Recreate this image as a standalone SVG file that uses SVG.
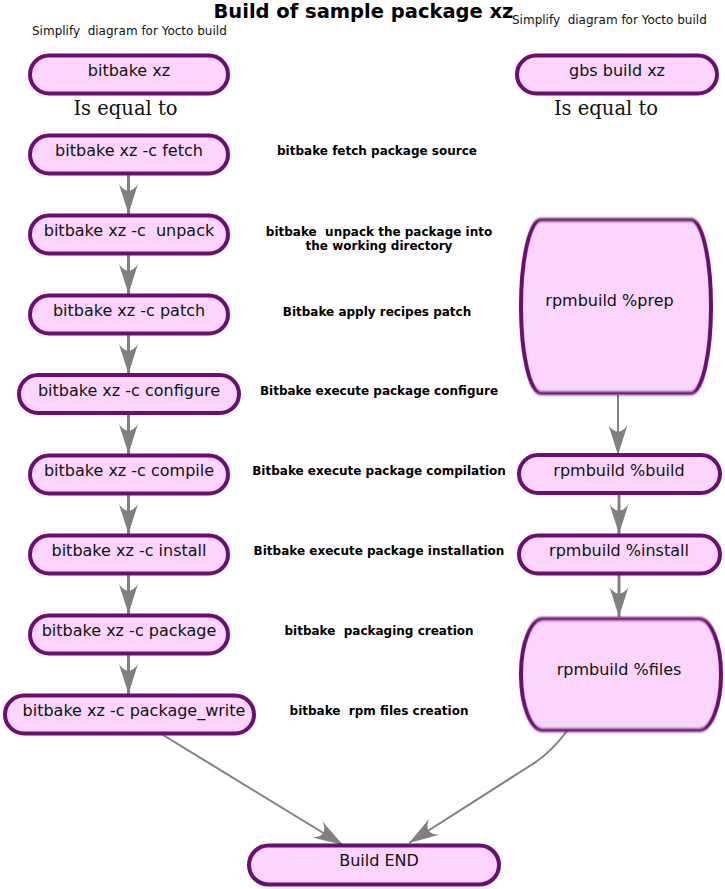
<svg xmlns="http://www.w3.org/2000/svg" width="725" height="889" viewBox="0 0 725 889" xml:space="preserve">
<style>
text{white-space:pre}
.node{fill:#fbd5fd;stroke:#6c0b72;stroke-width:4;filter:url(#soft)}
.big{fill:#fbd5fd;stroke:#6c0b72;stroke-width:4;filter:url(#softv)}
.lbl{font-family:"DejaVu Sans",sans-serif;font-size:16px;fill:#111;text-anchor:middle}
.desc{font-family:"DejaVu Sans",sans-serif;font-size:12px;font-weight:bold;fill:#000;text-anchor:middle}
.sub{font-family:"DejaVu Sans",sans-serif;font-size:12px;fill:#111}
.eq{font-family:"DejaVu Serif",serif;font-size:19.5px;fill:#111;text-anchor:middle}
.title{font-family:"DejaVu Sans",sans-serif;font-size:19.5px;font-weight:bold;fill:#000;text-anchor:middle}
.c3{fill:none;stroke:#808080;stroke-width:3;marker-end:url(#ah)}
.c2{fill:none;stroke:#808080;stroke-width:2;marker-end:url(#ah)}
</style>
<defs>
<filter id="soft" x="-5%" y="-20%" width="110%" height="140%"><feGaussianBlur stdDeviation="0.6"/></filter>
<filter id="softv" x="-5%" y="-10%" width="110%" height="120%"><feGaussianBlur stdDeviation="0.6 1.3"/></filter>
<marker id="ah" markerUnits="userSpaceOnUse" markerWidth="34" markerHeight="24" viewBox="-32 -12 34 24" refX="0" refY="0" orient="auto">
<path d="M0,0 L-30,-9.5 C-21,-3.5 -21,3.5 -30,9.5 Z" fill="#808080"/>
</marker>
</defs>
<text class="title" x="363.5" y="18">Build of sample package xz</text>
<text class="sub" x="32" y="35">Simplify  diagram for Yocto build</text>
<text class="sub" x="512" y="24">Simplify  diagram for Yocto build</text>
<text class="eq" x="125.5" y="115">Is equal to</text>
<text class="eq" x="606" y="115">Is equal to</text>
<g id="connectors">
<path class="c3" d="M128.5,175 L128.5,214"/>
<path class="c3" d="M128.5,255 L128.5,294"/>
<path class="c3" d="M128.5,335 L128.5,374"/>
<path class="c3" d="M128.5,415 L128.5,454"/>
<path class="c3" d="M128.5,495 L128.5,534"/>
<path class="c3" d="M128.5,575 L128.5,614"/>
<path class="c3" d="M128.5,655 L128.5,694"/>
<path class="c2" d="M618,395 L618,455"/>
<path class="c3" d="M619,495 L619,534"/>
<path class="c3" d="M619,575 L619,617"/>
<path class="c2" d="M163,735 L343,845"/>
<path class="c2" d="M567,731 Q549,755 528,767 L409,843"/>
</g>
<g id="n-bitbake"><rect class="node" x="30" y="55.5" width="198" height="38" rx="19"/><text class="lbl" x="129" y="76">bitbake xz</text></g>
<g id="n-fetch"><rect class="node" x="30" y="135.5" width="198" height="38" rx="19"/><text class="lbl" x="129" y="156">bitbake xz -c fetch</text></g>
<g id="n-unpack"><rect class="node" x="30" y="215.5" width="198" height="38" rx="19"/><text class="lbl" x="129" y="236">bitbake xz -c  unpack</text></g>
<g id="n-patch"><rect class="node" x="30" y="295.5" width="198" height="38" rx="19"/><text class="lbl" x="129" y="316">bitbake xz -c patch</text></g>
<g id="n-configure"><rect class="node" x="19" y="375" width="220" height="38" rx="19"/><text class="lbl" x="129" y="395.5">bitbake xz -c configure</text></g>
<g id="n-compile"><rect class="node" x="30" y="455.5" width="198" height="38" rx="19"/><text class="lbl" x="129" y="476">bitbake xz -c compile</text></g>
<g id="n-install"><rect class="node" x="30" y="535.5" width="198" height="38" rx="19"/><text class="lbl" x="129" y="556">bitbake xz -c install</text></g>
<g id="n-package"><rect class="node" x="30" y="615.5" width="198" height="38" rx="19"/><text class="lbl" x="129" y="636">bitbake xz -c package</text></g>
<g id="n-package-write"><rect class="node" x="5" y="695.5" width="249" height="38" rx="19"/><text class="lbl" x="134" y="716">bitbake xz -c package_write</text></g>
<g id="n-gbs"><rect class="node" x="517" y="55.5" width="200" height="38" rx="19"/><text class="lbl" x="617" y="76">gbs build xz</text></g>
<g id="n-prep"><rect class="big" x="521" y="220" width="190" height="173" rx="20" ry="86"/><text class="lbl" x="609.5" y="306">rpmbuild %prep</text></g>
<g id="n-build"><rect class="node" x="519" y="455" width="201" height="38" rx="19"/><text class="lbl" x="619" y="475.5">rpmbuild %build</text></g>
<g id="n-rinstall"><rect class="node" x="519" y="535.5" width="201" height="38" rx="19"/><text class="lbl" x="619" y="555.5">rpmbuild %install</text></g>
<g id="n-files"><rect class="big" x="521" y="619" width="200" height="111" rx="22" ry="55"/><text class="lbl" x="619" y="675">rpmbuild %files</text></g>
<g id="n-end"><rect class="node" x="249" y="845.5" width="250" height="39" rx="19.5"/><text class="lbl" x="379" y="866">Build END</text></g>
<g id="descriptions">
<text class="desc" x="377" y="155">bitbake fetch package source</text>
<text class="desc" x="379" y="236">bitbake  unpack the package into</text>
<text class="desc" x="379" y="250">the working directory</text>
<text class="desc" x="377" y="315.5">Bitbake apply recipes patch</text>
<text class="desc" x="379" y="395">Bitbake execute package configure</text>
<text class="desc" x="379" y="475">Bitbake execute package compilation</text>
<text class="desc" x="379" y="555">Bitbake execute package installation</text>
<text class="desc" x="379" y="635">bitbake  packaging creation</text>
<text class="desc" x="379" y="715">bitbake  rpm files creation</text>
</g>
</svg>
